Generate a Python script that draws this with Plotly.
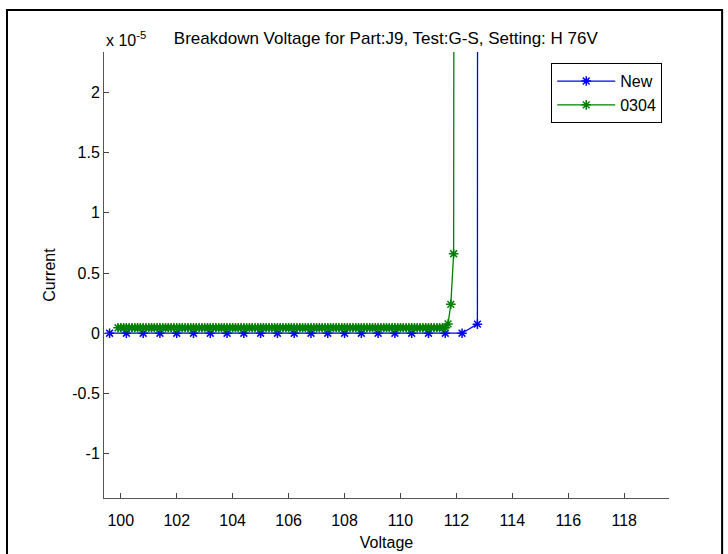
import plotly.graph_objects as go

# Sweep data (voltage in V, current in A)
new_voltage = [99.6, 100.2, 100.8, 101.4, 102.0, 102.6, 103.2, 103.8, 104.4, 105.0,
               105.6, 106.2, 106.8, 107.4, 108.0, 108.6, 109.2, 109.8, 110.4, 111.0,
               111.6, 112.2, 112.75, 112.8]
new_current = [0, 0, 0, 0, 0, 0, 0, 0, 0, 0,
               0, 0, 0, 0, 0, 0, 0, 0, 0, 0,
               0, 0, 7.5e-7, 2.5e-4]

old_voltage = [99.9, 100.0, 100.1, 100.2, 100.3, 100.4, 100.5, 100.6, 100.7, 100.8, 100.9,
               101.0, 101.1, 101.2, 101.3, 101.4, 101.5, 101.6, 101.7, 101.8, 101.9,
               102.0, 102.1, 102.2, 102.3, 102.4, 102.5, 102.6, 102.7, 102.8, 102.9,
               103.0, 103.1, 103.2, 103.3, 103.4, 103.5, 103.6, 103.7, 103.8, 103.9,
               104.0, 104.1, 104.2, 104.3, 104.4, 104.5, 104.6, 104.7, 104.8, 104.9,
               105.0, 105.1, 105.2, 105.3, 105.4, 105.5, 105.6, 105.7, 105.8, 105.9,
               106.0, 106.1, 106.2, 106.3, 106.4, 106.5, 106.6, 106.7, 106.8, 106.9,
               107.0, 107.1, 107.2, 107.3, 107.4, 107.5, 107.6, 107.7, 107.8, 107.9,
               108.0, 108.1, 108.2, 108.3, 108.4, 108.5, 108.6, 108.7, 108.8, 108.9,
               109.0, 109.1, 109.2, 109.3, 109.4, 109.5, 109.6, 109.7, 109.8, 109.9,
               110.0, 110.1, 110.2, 110.3, 110.4, 110.5, 110.6, 110.7, 110.8, 110.9,
               111.0, 111.1, 111.2, 111.3, 111.4, 111.5, 111.6, 111.7, 111.8, 111.9,
               112.0]
old_current = [4.5e-7, 4.5e-7, 4.5e-7, 4.5e-7, 4.5e-7, 4.5e-7, 4.5e-7, 4.5e-7, 4.5e-7, 4.5e-7, 4.5e-7,
               4.5e-7, 4.5e-7, 4.5e-7, 4.5e-7, 4.5e-7, 4.5e-7, 4.5e-7, 4.5e-7, 4.5e-7, 4.5e-7,
               4.5e-7, 4.5e-7, 4.5e-7, 4.5e-7, 4.5e-7, 4.5e-7, 4.5e-7, 4.5e-7, 4.5e-7, 4.5e-7,
               4.5e-7, 4.5e-7, 4.5e-7, 4.5e-7, 4.5e-7, 4.5e-7, 4.5e-7, 4.5e-7, 4.5e-7, 4.5e-7,
               4.5e-7, 4.5e-7, 4.5e-7, 4.5e-7, 4.5e-7, 4.5e-7, 4.5e-7, 4.5e-7, 4.5e-7, 4.5e-7,
               4.5e-7, 4.5e-7, 4.5e-7, 4.5e-7, 4.5e-7, 4.5e-7, 4.5e-7, 4.5e-7, 4.5e-7, 4.5e-7,
               4.5e-7, 4.5e-7, 4.5e-7, 4.5e-7, 4.5e-7, 4.5e-7, 4.5e-7, 4.5e-7, 4.5e-7, 4.5e-7,
               4.5e-7, 4.5e-7, 4.5e-7, 4.5e-7, 4.5e-7, 4.5e-7, 4.5e-7, 4.5e-7, 4.5e-7, 4.5e-7,
               4.5e-7, 4.5e-7, 4.5e-7, 4.5e-7, 4.5e-7, 4.5e-7, 4.5e-7, 4.5e-7, 4.5e-7, 4.5e-7,
               4.5e-7, 4.5e-7, 4.5e-7, 4.5e-7, 4.5e-7, 4.5e-7, 4.5e-7, 4.5e-7, 4.5e-7, 4.5e-7,
               4.5e-7, 4.5e-7, 4.5e-7, 4.5e-7, 4.5e-7, 4.5e-7, 4.5e-7, 4.5e-7, 4.5e-7, 4.5e-7,
               4.5e-7, 4.5e-7, 4.5e-7, 4.5e-7, 4.5e-7, 4.5e-7, 4.5e-7, 7.7e-7, 2.4e-6, 6.6e-6,
               2.5e-4]

x_ticks = [100, 102, 104, 106, 108, 110, 112, 114, 116, 118]
y_ticks = [-1e-5, -0.5e-5, 0, 0.5e-5, 1e-5, 1.5e-5, 2e-5]
y_ticktext = ['-1', '-0.5', '0', '0.5', '1', '1.5', '2']

FONT = 'Liberation Sans, Arial, sans-serif'

fig = go.Figure()
fig.add_trace(go.Scatter(
    x=new_voltage, y=new_current, mode='lines+markers', name='New',
    line=dict(color='#0000ff', width=1.3),
    marker=dict(symbol='asterisk-open', size=8, color='#0000ff', line=dict(width=1.5, color='#0000ff')),
))
fig.add_trace(go.Scatter(
    x=old_voltage, y=old_current, mode='lines+markers', name='0304',
    line=dict(color='#008000', width=1.3),
    marker=dict(symbol='asterisk-open', size=8, color='#008000', line=dict(width=1.5, color='#008000')),
))

fig.update_layout(
    width=728, height=554,
    margin=dict(l=104, r=59, t=52, b=56),
    paper_bgcolor='white', plot_bgcolor='white',
    font=dict(family=FONT, size=16, color='black'),
    title=dict(text='Breakdown Voltage for Part:J9, Test:G-S, Setting: H 76V',
               xref='container', x=0.53, xanchor='center',
               yref='container', y=1 - 38 / 554, yanchor='middle',
               font=dict(size=17, color='black')),
    xaxis=dict(range=[99.4, 119.6], tickvals=x_ticks, ticks='inside', ticklen=5,
               tickcolor='#444', showline=True, linecolor='#555', linewidth=1,
               showgrid=False, zeroline=False, automargin=False,
               tickfont=dict(size=16), ticklabelstandoff=8,
               title=dict(text='Voltage', standoff=8, font=dict(size=16))),
    yaxis=dict(range=[-1.369e-5, 2.336e-5], tickvals=y_ticks, ticktext=y_ticktext,
               ticks='inside', ticklen=5, tickcolor='#444', showline=True,
               linecolor='#555', linewidth=1, showgrid=False, zeroline=False,
               automargin=False, tickfont=dict(size=16),
               title=dict(text='Current', standoff=12, font=dict(size=16))),
    legend=dict(x=0.988, y=0.975, xanchor='right', yanchor='top',
                bordercolor='black', borderwidth=1, bgcolor='white',
                itemwidth=58, font=dict(size=16)),
    annotations=[dict(text='x 10<sup>-5</sup>', xref='paper', yref='paper',
                      x=0, y=1.03, xanchor='left', yanchor='middle',
                      showarrow=False, font=dict(size=16))],
    shapes=[dict(type='rect', xref='paper', yref='paper',
                 x0=-0.1717, x1=1.094, y0=-0.135, y1=1.094,
                 line=dict(color='black', width=2))],
)

# drop the default page margin so the figure sits at the window's top-left corner
fig.write_html("out.html", config={'displayModeBar': False},
               post_script="document.body.style.margin='0';")
